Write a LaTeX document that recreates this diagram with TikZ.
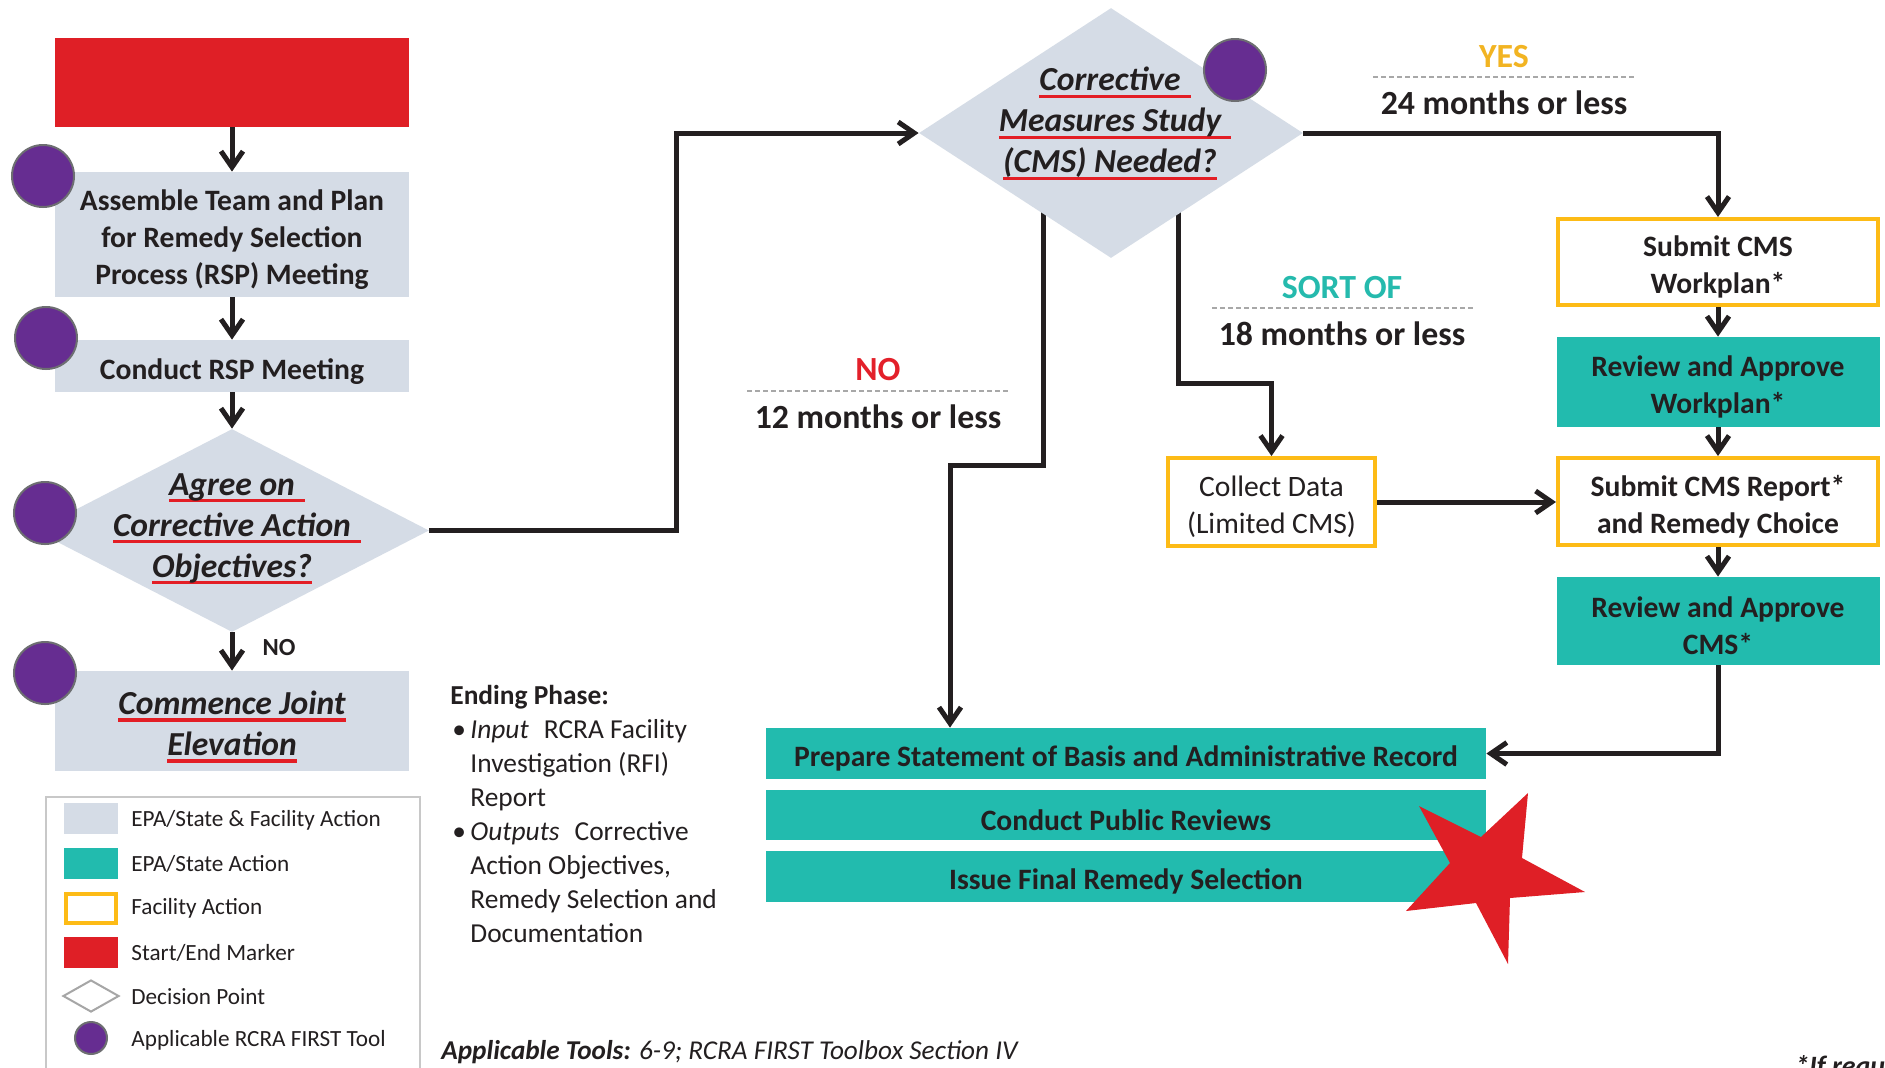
\documentclass[tikz,border=0pt]{standalone}
\usepackage{fontspec}
\setmainfont{Carlito}
\usetikzlibrary{shapes.geometric,arrows.meta,backgrounds}

\definecolor{startred}{HTML}{DF1F26}
\definecolor{jointgray}{HTML}{D5DCE6}
\definecolor{epateal}{HTML}{22BBAE}
\definecolor{facyellow}{HTML}{FDBB16}
\definecolor{toolpurple}{HTML}{662D91}
\definecolor{ringgray}{HTML}{6D6E71}
\definecolor{inkblack}{HTML}{231F20}
\definecolor{ulred}{HTML}{E31E25}
\definecolor{noRed}{HTML}{E3202A}
\definecolor{yesGold}{HTML}{F2B422}
\definecolor{sortTeal}{HTML}{25BAAD}
\definecolor{dashgray}{HTML}{A8A8A8}
\definecolor{framegray}{HTML}{C8C8C8}

% red underline under a line of text; optional argument lengthens the rule
\newcommand\redul[2][0pt]{\setbox0=\hbox{#2}\leavevmode\rlap{\color{ulred}\rule[-3.4pt]{\dimexpr\wd0+#1\relax}{1.6pt}}\box0}
% invisible struts that lower the text block a little inside its box
\newcommand\boxtop{\rule{0pt}{15.5pt}}
\newcommand\dectop{\rule{0pt}{17.6pt}}

\tikzset{
  boxtext/.style={font=\fontsize{14.8}{18.5}\selectfont\bfseries, align=center, text=inkblack},
  jointbox/.style={fill=jointgray, inner sep=0pt, boxtext},
  tealbox/.style={fill=epateal, inner sep=0pt, boxtext},
  facbox/.style={draw=facyellow, line width=2pt, fill=white, inner sep=0pt, boxtext},
  startbox/.style={fill=startred, inner sep=0pt},
  decision/.style={diamond, fill=jointgray, inner sep=0pt},
  dectext/.style={font=\fontsize{16.8}{20.5}\selectfont\bfseries\itshape, align=center, text=inkblack, inner sep=0pt},
  tool/.style={circle, fill=toolpurple, draw=ringgray, line width=1pt, minimum size=31pt, inner sep=0pt},
  flow/.style={draw=inkblack, line width=2.5pt, -{Straight Barb[length=8pt,width=11pt]}},
  lbl/.style={font=\fontsize{16.9}{20}\selectfont\bfseries, text=inkblack, inner sep=0pt},
  dashrule/.style={draw=dashgray, line width=0.7pt, dash pattern=on 2.5pt off 1.5pt},
  keytext/.style={anchor=west, font=\fontsize{11.6}{14}\selectfont, text=inkblack, inner sep=0pt},
  swatch/.style={minimum width=27pt, minimum height=15.5pt, inner sep=0pt}
}

\begin{document}
\begin{tikzpicture}[x=0.5pt,y=-0.5pt]
\useasboundingbox (0,0) rectangle (1885,1067);
\begin{scope}[on background layer]
  \fill[white] (0,0) rectangle (1885,1067);
\end{scope}
\clip (0,0) rectangle (1885,1067);

% ---- left column ----
\node[startbox, minimum width=177pt, minimum height=44.5pt] (start) at (232,82.5) {};
\node[jointbox, minimum width=177pt, minimum height=62.5pt] (assemble) at (232,234.5)
  {\boxtop Assemble Team and Plan\\for Remedy Selection\\Process (RSP) Meeting};
\node[jointbox, minimum width=177pt, minimum height=26pt] (conduct) at (232,366) {\boxtop Conduct RSP Meeting};
\node[decision, minimum width=197pt, minimum height=101.5pt] (agree) at (232,530.5) {};
\node[dectext] (agreetxt) at (232,529)
  {\redul[5pt]{Agree on}\\\redul[5pt]{Corrective Action}\\\redul{Objectives?}};
\node[jointbox, dectext, minimum width=177pt, minimum height=50pt] (commence) at (232,721)
  {\dectop\redul{Commence Joint}\\\redul{Elevation}};

% ---- CMS decision ----
\node[decision, minimum width=192pt, minimum height=125pt] (cms) at (1111,133) {};
\node[dectext] (cmstxt) at (1110,123.5)
  {\redul[5pt]{Corrective}\\\redul[5pt]{Measures Study}\\\redul{(CMS) Needed?}};

% ---- right column ----
\node[facbox, minimum width=160pt, minimum height=43pt] (submitwp) at (1718,262) {\boxtop Submit CMS\\Workplan*};
\node[tealbox, minimum width=161.5pt, minimum height=45pt] (reviewwp) at (1718,382) {\boxtop Review and Approve\\Workplan*};
\node[facbox, minimum width=160pt, minimum height=43.5pt] (submitrep) at (1718,501.5) {\boxtop Submit CMS Report*\\and Remedy Choice};
\node[tealbox, minimum width=161.5pt, minimum height=44pt] (reviewcms) at (1718,621) {\boxtop Review and Approve\\CMS*};
\node[facbox, font=\fontsize{14.8}{18.5}\selectfont, minimum width=103.5pt, minimum height=44pt] (collect) at (1271.5,502)
  {\boxtop Collect Data\\(Limited CMS)};

% ---- ending steps ----
\node[tealbox, minimum width=360pt, minimum height=25.5pt] (prepare) at (1126,753.5)
  {\boxtop Prepare Statement of Basis and Administrative Record};
\node[tealbox, minimum width=360pt, minimum height=25pt] (publicrev) at (1126,815) {\boxtop Conduct Public Reviews};
\node[tealbox, minimum width=360pt, minimum height=25.5pt] (finalrem) at (1126,876.5) {\boxtop Issue Final Remedy Selection};

% end marker star
\fill[startred] (1528,793) -- (1522,858) -- (1585,892) -- (1510,898) -- (1508,964) -- (1476,903)
  -- (1406,911) -- (1450,863) -- (1419,806) -- (1481,837) -- cycle;

% ---- tool markers ----
\node[tool] (tool1) at (43,176) {};
\node[tool] (tool2) at (46,338) {};
\node[tool] (tool3) at (45,513) {};
\node[tool] (tool4) at (45,673) {};
\node[tool] (tool5) at (1235,70) {};

% ---- connectors ----
\coordinate (jog) at (676,133);
\coordinate (noturn) at (1043,465);
\coordinate (noleft) at (950,465);
\coordinate (sortturn) at (1178,383);

\draw[flow] (start.south) -- (assemble.north);
\draw[flow] (assemble.south) -- (conduct.north);
\draw[flow] (conduct.south) -- (agree.north);
\draw[flow] (agree.south) -- (commence.north);
\draw[flow] (agree.east) -| (jog) -- (cms.west);
\draw[flow] (cms.east) -| (submitwp.north);
\draw[flow] (submitwp.south) -- (reviewwp.north);
\draw[flow] (reviewwp.south) -- (submitrep.north);
\draw[flow] (submitrep.south) -- (reviewcms.north);
\draw[flow] (reviewcms.south) |- (prepare.east);
\draw[flow] (collect.east) -- (collect.east -| submitrep.west);
\begin{scope}[on background layer]
  \draw[flow] (cms.center -| noturn) -- (noturn) -- (noleft) -- (noleft |- prepare.north);
  \draw[flow] (cms.center -| sortturn) -- (sortturn) -| (collect.north);
\end{scope}

\node[font=\fontsize{12.3}{14}\selectfont\bfseries, text=inkblack, inner sep=0pt] (nolow) at (279,648) {NO};

% ---- branch labels ----
\node[lbl, text=yesGold] (yes) at (1504,57) {YES};
\draw[dashrule] (1373,77) -- (1635,77);
\node[lbl] (yestime) at (1504,103) {24 months or less};

\node[lbl, text=sortTeal] (sortof) at (1342,288) {SORT OF};
\draw[dashrule] (1212,308) -- (1473,308);
\node[lbl] (sorttime) at (1342,334) {18 months or less};

\node[lbl, text=noRed] (no) at (878,370) {NO};
\draw[dashrule] (747,391) -- (1008,391);
\node[lbl] (notime) at (878,417) {12 months or less};

% ---- phase notes ----
\node[anchor=north west, align=left, font=\fontsize{13.7}{17}\selectfont, text=inkblack, inner sep=0pt] (ending) at (450,685)
  {\textbf{Ending Phase:}\\
   \makebox[10pt][l]{\hspace{1pt}•}\textit{Input}\hspace{0.55em}RCRA Facility\\
   \hspace*{10pt}Investigation (RFI)\\
   \hspace*{10pt}Report\\
   \makebox[10pt][l]{\hspace{1pt}•}\textit{Outputs}\hspace{0.55em}Corrective\\
   \hspace*{10pt}Action Objectives,\\
   \hspace*{10pt}Remedy Selection and\\
   \hspace*{10pt}Documentation};

\node[anchor=west, font=\fontsize{13.6}{16}\selectfont\itshape, text=inkblack, inner sep=0pt] (tools) at (441,1052)
  {\textbf{Applicable Tools:} 6-9; RCRA FIRST Toolbox Section IV};

\node[anchor=base west, font=\fontsize{14}{16}\selectfont\bfseries\itshape, text=inkblack, inner sep=0pt] (ifreq) at (1795,1075)
  {*If required};

% ---- legend ----
\draw[draw=framegray, line width=1pt] (46,797) rectangle (420,1100);
\node[swatch, fill=jointgray] (keyjoint) at (91,818.5) {};
\node[swatch, fill=epateal] (keyepa) at (91,863.5) {};
\node[draw=facyellow, line width=2pt, fill=white, minimum width=25pt, minimum height=14.5pt, inner sep=0pt] (keyfac) at (91,908.5) {};
\node[swatch, fill=startred] (keystart) at (91,952) {};
\node[diamond, draw=gray!70, line width=1pt, minimum width=28pt, minimum height=16pt, inner sep=0pt] (keydec) at (91,996) {};
\node[tool, minimum size=16pt] (keytool) at (91,1038) {};
\node[keytext] (keyjointtxt) at (131,820) {EPA/State \& Facility Action};
\node[keytext] (keyepatxt) at (131,864) {EPA/State Action};
\node[keytext] (keyfactxt) at (131,908) {Facility Action};
\node[keytext] (keystarttxt) at (131,953) {Start/End Marker};
\node[keytext] (keydectxt) at (131,997) {Decision Point};
\node[keytext] (keytooltxt) at (131,1040) {Applicable RCRA FIRST Tool};
\end{tikzpicture}
\end{document}
